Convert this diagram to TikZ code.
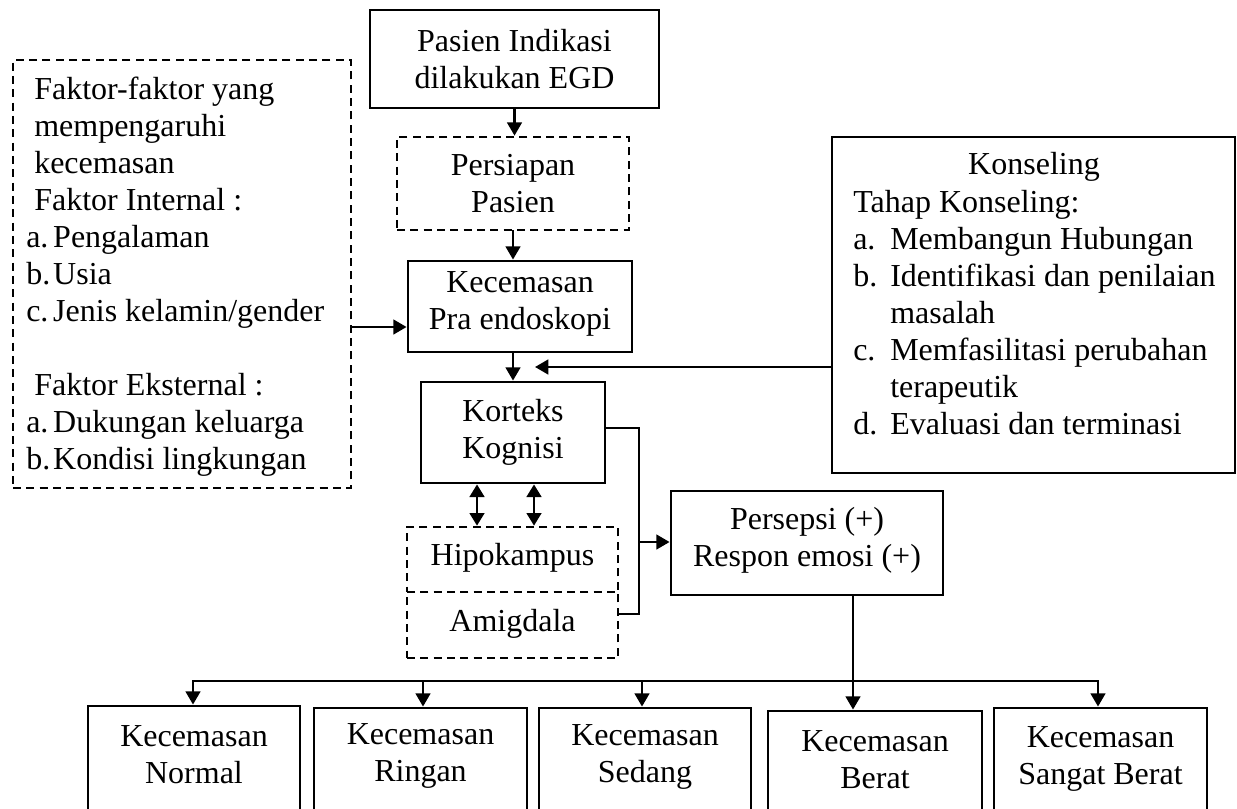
\documentclass[tikz,border=0pt]{standalone}
\usepackage{fontspec}
\setmainfont{Liberation Serif}
\usetikzlibrary{arrows.meta,fit}
\begin{document}
\begin{tikzpicture}[x=0.75pt,y=-0.75pt,
  every node/.style={font=\fontsize{24}{27.75}\selectfont},
  box/.style={draw,line width=2.1pt,inner sep=0pt},
  dbox/.style={draw,line width=2pt,dash pattern=on 6pt off 4pt,inner sep=0pt},
  lbl/.style={align=center,inner sep=0pt},
  arr/.style={line width=2pt,line cap=rect,-{Triangle[length=10pt,width=11pt]}},
  darr/.style={line width=2pt,{Triangle[length=9.5pt,width=11pt]}-{Triangle[length=9.5pt,width=11pt]}},
  ln/.style={line width=2pt,line cap=rect},
  txt/.style={inner sep=0pt,align=left}]
\useasboundingbox (0,0) rectangle (1237,809);
\clip (0,0) rectangle (1237,809);

% main column
\node[box,fit={(370,10) (659,108)}] (egd) {};
\node[lbl] (egdt) at (egd.center) {Pasien Indikasi\\dilakukan EGD};
\node[dbox,fit={(397,137) (629,230)}] (pers) {};
\node[lbl] (perst) at (pers.center) {Persiapan\\Pasien};
\node[box,fit={(408,261) (632,352)}] (kec) {};
\node[lbl] (kect) at ([yshift=2pt]kec.center) {Kecemasan\\Pra endoskopi};
\node[box,fit={(421,382) (605,483)}] (kor) {};
\node[lbl] (kort) at (kor.center) {Korteks\\Kognisi};
\node[dbox,fit={(407,527) (618,592)}] (hip) {};
\node[lbl] (hipt) at ([yshift=1pt]hip.center) {Hipokampus};
\node[dbox,fit={(407,592) (618,658)}] (amg) {};
\node[lbl] (amgt) at ([yshift=1pt]amg.center) {Amigdala};
\node[box,fit={(671,491) (943,595)}] (psp) {};
\node[lbl] (pspt) at ([yshift=2pt]psp.center) {Persepsi (+)\\Respon emosi (+)};

% left factor box
\node[dbox,fit={(13,60) (351,488)}] (fak) {};
\node[txt,anchor=north west] (fakt) at (26,73.7) {\strut\hspace*{6pt}Faktor-faktor yang\\
\hspace*{6pt}mempengaruhi\\
\hspace*{6pt}kecemasan\\
\hspace*{6pt}Faktor Internal :\\
\makebox[20.25pt][l]{a.}Pengalaman\\
\makebox[20.25pt][l]{b.}Usia\\
\makebox[20.25pt][l]{c.}Jenis kelamin/gender\\
\strut\\
\hspace*{6pt}Faktor Eksternal :\\
\makebox[20.25pt][l]{a.}Dukungan keluarga\\
\makebox[20.25pt][l]{b.}Kondisi lingkungan\strut};

% konseling box
\node[box,fit={(832,137) (1235,473)}] (kons) {};
\node (konst) at (1034,167) {Konseling};
\node[txt,anchor=north west] (konsl) at (853,186.7) {\strut Tahap Konseling:\\
\makebox[27.75pt][l]{a.}Membangun Hubungan\\
\makebox[27.75pt][l]{b.}Identifikasi dan penilaian\\
\hspace*{27.75pt}masalah\\
\makebox[27.75pt][l]{c.}Memfasilitasi perubahan\\
\hspace*{27.75pt}terapeutik\\
\makebox[27.75pt][l]{d.}Evaluasi dan terminasi\strut};

% bottom boxes
\node[box,fit={(88,706) (300,840)}] (b1) {};
\node[box,fit={(314,708) (527,840)}] (b2) {};
\node[box,fit={(539,708) (751,840)}] (b3) {};
\node[box,fit={(768,711) (982,840)}] (b4) {};
\node[box,fit={(994,708) (1207,840)}] (b5) {};
\node[lbl] (t1) at (194,755) {Kecemasan\\Normal};
\node[lbl] (t2) at (420.5,756) {Kecemasan\\Ringan};
\node[lbl] (t3) at (645,757) {Kecemasan\\Sedang};
\node[lbl] (t4) at (875,759.5) {Kecemasan\\Berat};
\node[lbl] (t5) at (1100.5,758.5) {Kecemasan\\Sangat Berat};

% connectors, main column
\draw[arr] (egd.south) -- (egd.south |- pers.north);
\draw[arr] (pers.south) -- (pers.south |- kec.north);
\draw[arr] (kor.north |- kec.south) -- (kor.north);
\coordinate (kc) at (535,367);
\draw[arr] (kc -| kons.west) -- (kc);
\coordinate (fa) at (0,327);
\draw[arr] (fa -| fak.east) -- (fa -| kec.west);

% korteks / limbic to persepsi
\coordinate (j0) at (639,428);
\coordinate (j1) at (639,542);
\coordinate (j2) at (639,614);
\draw[ln] (j0 -| kor.east) -- (j0) -- (j2) -- (j2 -| amg.east);
\draw[arr] (j1) -- (j1 -| psp.west);
\coordinate (d1) at (477,0);
\coordinate (d2) at (534,0);
\draw[darr] (d1 |- kor.south) -- (d1 |- hip.north);
\draw[darr] (d2 |- kor.south) -- (d2 |- hip.north);

% distribution to outcome boxes
\coordinate (hl) at (193,681);
\coordinate (h2) at (423,681);
\coordinate (h3) at (642,681);
\coordinate (hr) at (1098,681);
\coordinate (pv) at (853,0);
\draw[arr] (hr) -- (hl) -- (hl |- b1.north);
\draw[arr] (hr) -- (hr |- b5.north);
\draw[arr] (h2) -- (h2 |- b2.north);
\draw[arr] (h3) -- (h3 |- b3.north);
\draw[arr] (pv |- psp.south) -- (pv |- b4.north);
\end{tikzpicture}
\end{document}
